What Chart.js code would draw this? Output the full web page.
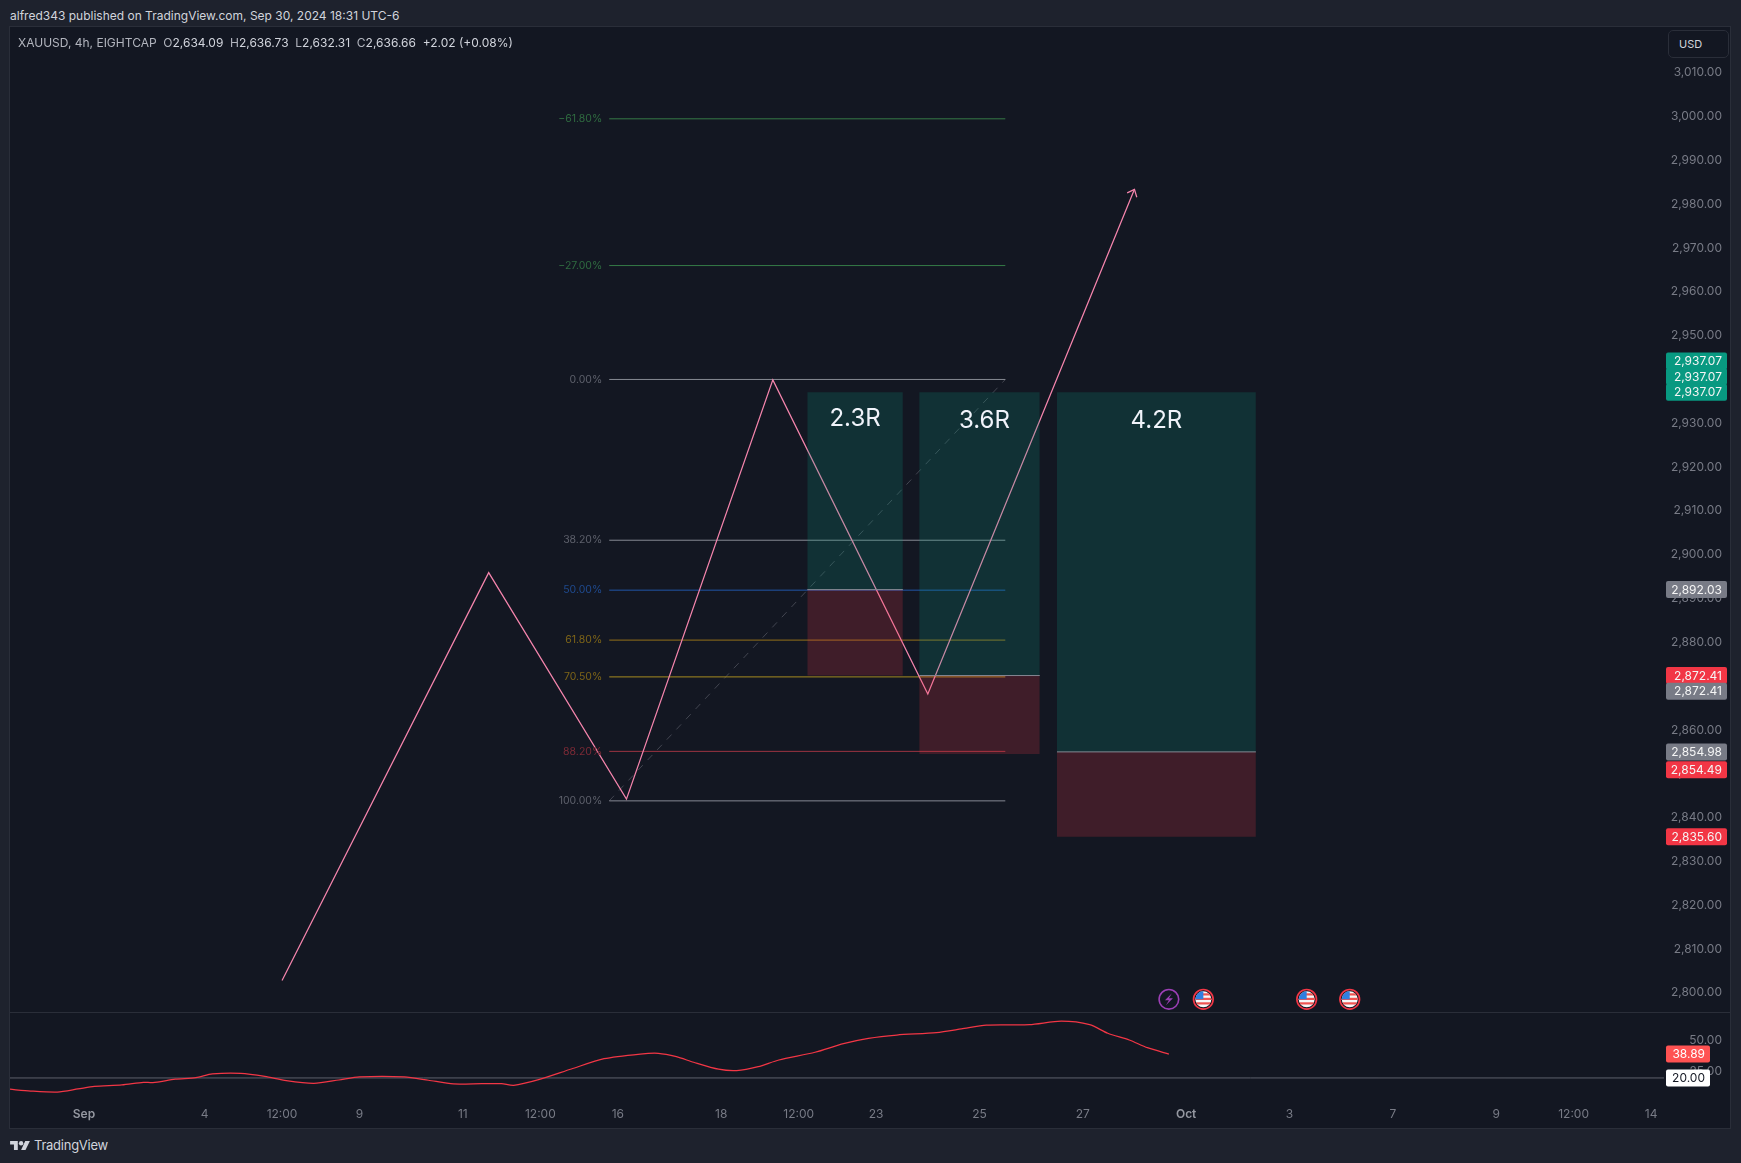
<!DOCTYPE html>
<html><head><meta charset="utf-8">
<script src="https://cdn.jsdelivr.net/npm/chart.js@4"></script>
<style>
html,body{margin:0;padding:0;background:#1e222d;width:1741px;height:1163px;overflow:hidden;font-family:Inter,"Noto Sans",sans-serif}
#hdr{position:absolute;left:10px;top:7px;color:#d1d4dc;font-size:12px;line-height:18px;white-space:nowrap}
#frame{position:absolute;left:10px;top:27px;width:1720px;height:1101px;background:#131722;box-shadow:0 0 0 1px #2a2e39}
#legend{position:absolute;left:18px;top:34px;color:#b2b5be;font-size:12px;line-height:18px;white-space:nowrap}
#legend b{font-weight:400;color:#d1d4dc}
#legend span{margin-left:6.7px}
#usd{position:absolute;left:1668px;top:30px;width:59px;height:26px;border:1px solid #2a2e39;border-radius:5px;color:#d1d4dc;font-size:11px;line-height:26px;text-indent:10px;box-sizing:content-box;background:#131722;z-index:3}
canvas{position:absolute}
#c1{left:10px;top:27px}
#c2{left:10px;top:1012px}
#sep{position:absolute;left:10px;top:1012px;width:1720px;height:1px;background:#2a2e39;z-index:2}
#wm{position:absolute;left:10px;top:1135px;color:#d1d4dc;font-size:13px;letter-spacing:-.25px;line-height:20px;white-space:nowrap}
#wm svg{position:absolute;left:0;top:5px}
#wm span{position:absolute;left:24px;top:0}
</style></head><body>
<div id="hdr">alfred343 published on TradingView.com, Sep 30, 2024 18:31 UTC-6</div>
<div id="frame"></div>
<canvas id="c1" width="1720" height="985"></canvas>
<canvas id="c2" width="1720" height="116"></canvas>
<div id="sep"></div>
<div id="legend">XAUUSD, 4h, EIGHTCAP<span>O<b>2,634.09</b></span><span>H<b>2,636.73</b></span><span>L<b>2,632.31</b></span><span>C<b>2,636.66</b></span><span><b>+2.02 (+0.08%)</b></span></div>
<div id="usd">USD</div>
<div id="wm"><svg width="20" height="11" viewBox="0 0 36 20"><path fill="#d1d4dc" d="M14 18H7V8H0V2h14v16zM28 18h-8l7.5-16H36l-8 16z"/><circle fill="#d1d4dc" cx="20" cy="6" r="4"/></svg><span>TradingView</span></div>
<script>
// time axis, in 4h bars from the "Sep" tick
const timeTickBars   = [0,14,23,32,44,53,62,74,83,92,104,116,128,140,152,164,173,182];
const timeTickLabels = ['Sep','4','12:00','9','11','12:00','16','18','12:00','23','25','27','Oct','3','7','9','12:00','14'];
const boldTicks      = ['Sep','Oct'];

// hand-drawn path
const pathBars   = [23,47,63,80,98,122];
const pathPrices = [2802.8,2895.9,2844.2,2939.9,2868.2,2983.4];
const arrowBars   = [121.15,122,122.27];
const arrowPrices = [2982.6,2983.4,2981.6];

// fib retracement
const fibLabels = ['-61.80%','-27.00%','0.00%','38.20%','50.00%','61.80%','70.50%','88.20%','100.00%'];
const fibPrices = [2999.5,2966.0,2940.0,2903.3,2891.9,2880.5,2872.1,2855.1,2843.8];
const fibLine   = ['#357a47','#357a47','#868993','#868993','#2155a8','#94711a','#a68a20','#9c3342','#868993'];
const fibText   = ['#2f6b40','#2f6b40','#5d606b','#5d606b','#1f4a8f','#7d6418','#7d6418','#7c2a36','#5d606b'];
const fibStartBar = 61, fibEndBar = 107;

// long positions
const posLeft   = [84,97,113];
const posRight  = [95.1,111,136.1];
const posTarget = [2937.07,2937.07,2937.07];
const posEntry  = [2892.03,2872.41,2854.98];
const posStop   = [2872.41,2854.49,2835.60];
const posLabels = ['2.3R','3.6R','4.2R'];
const posLabelPrice = [2931.05,2930.5,2930.5];

// price axis badges
const badgeValues = [2937.07,2937.07,2937.07,2892.03,2872.41,2872.41,2854.98,2854.49,2835.60];
const badgeColors = ['#089981','#089981','#089981','#787b86','#f23645','#787b86','#787b86','#f23645','#f23645'];
const badgeStack  = [-2,-1,0,0,0,1,0,1,0];

// event markers
const eventBars  = [126,130,142,147];
const eventTypes = ['bolt','us','us','us'];

// indicator line
const adxBars = [-8.6,-6.2,-3.1,-0.7,1.2,4.4,6.9,8,10.6,13,14.9,18.2,21,23.5,26.7,29.6,32,37.2,40,42.9,46.2,48.5,49.9,52.8,56.6,60.4,64.6,66.7,68.8,70.8,73.7,75.8,78.3,80.7,84.9,88.2,91.1,94.4,99,101.9,104.8,109.8,113.5,116.8,118.9,121.4,123.5,126];
const adxVals = [11.1,9.7,8.9,11.3,13.4,14.5,16.6,16.3,19.0,20.2,23.2,23.7,21.3,17.9,15.8,18.4,20.8,20.8,18.2,15.3,15.5,15.5,14.2,18.7,27.1,35.2,38.9,39.5,36.8,32.4,26.9,25.8,28.9,34.2,40.3,47.1,51.3,53.9,55.8,58.7,61.8,62.1,64.8,62.1,55.3,50,43.9,38.89];

const XMIN=-8.595, XMAX=183.5, AXIS_W=58, CANVAS_LEFT=10;
const FONT='Inter, "Noto Sans", sans-serif';
const zip=(xs,ys)=>xs.map((x,i)=>({x,y:ys[i]}));
const seg=(a,b,y)=>[{x:a,y},{x:b,y}];
const line=(data,color,extra={})=>Object.assign({type:'line',data,borderColor:color,borderWidth:1,pointRadius:0,tension:0,fill:false},extra);
const noPad=a=>{a.width=AXIS_W;a.paddingTop=0;a.paddingBottom=0;a.paddingLeft=0;a.paddingRight=0;};

const ds=[];
// top-most first: position boxes sit over the drawings
posLeft.forEach((l,i)=>{
  ds.push(line(seg(l,posRight[i],posEntry[i]),'#868993'));
  ds.push(line(seg(l,posRight[i],posTarget[i]),'rgba(0,0,0,0)',{borderWidth:0,fill:{value:posEntry[i]},backgroundColor:'rgba(8,153,129,0.2)'}));
  ds.push(line(seg(l,posRight[i],posEntry[i]),'rgba(0,0,0,0)',{borderWidth:0,fill:{value:posStop[i]},backgroundColor:'rgba(242,54,69,0.2)'}));
});
ds.push(line(zip(pathBars,pathPrices),'#f585ad',{borderWidth:1.25}));
ds.push(line(zip(arrowBars,arrowPrices),'#f585ad',{borderWidth:1.25}));
fibPrices.forEach((v,i)=>ds.push(line(seg(fibStartBar,fibEndBar,v),fibLine[i])));
ds.push(line([{x:fibStartBar,y:fibPrices[8]},{x:fibEndBar,y:fibPrices[2]}],'#434651',{borderDash:[7,7]}));

const overlay={id:'overlay',afterDraw(c){
  const g=c.ctx,xs=c.scales.x,ys=c.scales.y;
  g.save();
  g.font='10.5px '+FONT;g.textAlign='right';g.textBaseline='middle';
  fibLabels.forEach((t,i)=>{g.fillStyle=fibText[i];g.fillText(t.replace('-','\u2212'),xs.getPixelForValue(fibStartBar)-7,ys.getPixelForValue(fibPrices[i]));});
  g.font='24px '+FONT;g.textAlign='center';g.fillStyle='#f0f3fa';
  posLabels.forEach((t,i)=>{
    g.fillText(t,(xs.getPixelForValue(posLeft[i])+xs.getPixelForValue(posRight[i]))/2+(i==1?5:0),ys.getPixelForValue(posLabelPrice[i]));
  });
  const ey=ys.getPixelForValue(2798.5);
  eventBars.forEach((b,i)=>{
    const ex=xs.getPixelForValue(b);
    if(eventTypes[i]==='bolt'){
      g.strokeStyle='#9c3fb5';g.lineWidth=1.6;g.beginPath();g.arc(ex,ey,9.8,0,Math.PI*2);g.stroke();
      g.fillStyle='#9c3fb5';g.beginPath();g.moveTo(ex+3,ey-6);g.lineTo(ex-4,ey+1);g.lineTo(ex,ey+1);g.lineTo(ex-3,ey+6);g.lineTo(ex+4,ey-1);g.lineTo(ex,ey-1);g.closePath();g.fill();
    }else{
      g.save();g.beginPath();g.arc(ex,ey,8,0,Math.PI*2);g.clip();
      g.fillStyle='#f7f7f7';g.fillRect(ex-9,ey-9,18,18);
      g.fillStyle='#ef5350';for(let k=0;k<3;k++)g.fillRect(ex-9,ey-6+k*4.5,18,2.2);
      g.fillStyle='#2f7fe0';g.fillRect(ex-9,ey-9,9,9);
      g.restore();
      g.strokeStyle='#f23645';g.lineWidth=1.7;g.beginPath();g.arc(ex,ey,9.8,0,Math.PI*2);g.stroke();
    }
  });
  g.font='12px '+FONT;
  badgeValues.forEach((v,i)=>{
    const yy=ys.getPixelForValue(v)+badgeStack[i]*15.7;
    g.fillStyle=badgeColors[i];g.beginPath();g.roundRect(1666-CANVAS_LEFT,yy-8.5,61,17,2);g.fill();
    g.fillStyle='#f5f5f5';g.textAlign='right';
    g.fillText(v.toLocaleString('en-US',{minimumFractionDigits:2}),1722-CANVAS_LEFT,yy+0.5);
  });
  g.restore();
}};

new Chart(document.getElementById('c1'),{
  type:'line',
  data:{datasets:ds},
  plugins:[overlay],
  options:{responsive:false,animation:false,events:[],
    layout:{padding:{right:8}},
    plugins:{legend:{display:false},tooltip:{enabled:false}},
    scales:{
      x:{type:'linear',min:XMIN,max:XMAX,display:false},
      y:{type:'linear',position:'right',min:2795.6,max:3020.46,
        grid:{display:false,drawTicks:false},border:{display:false},
        afterFit:noPad,
        afterBuildTicks(a){a.ticks=[];for(let v=2800;v<=3010;v+=10)a.ticks.push({value:v});},
        ticks:{color:'#787b86',font:{family:FONT,size:12},padding:3,crossAlign:'far',
          callback:v=>v.toLocaleString('en-US',{minimumFractionDigits:2})}
      }}}
});

const indOverlay={id:'ind',afterDraw(c){
  const g=c.ctx,ys=c.scales.y;g.save();g.font='12px '+FONT;g.textBaseline='middle';g.textAlign='right';
  [[38.89,'#ff5252','#fff'],[20,'#ffffff','#131722']].forEach(([v,bg,fg])=>{
    const yy=ys.getPixelForValue(v);
    g.fillStyle=bg;g.beginPath();g.roundRect(1666-CANVAS_LEFT,yy-8.5,44,17,2);g.fill();
    g.fillStyle=fg;g.fillText(v.toFixed(2),1705-CANVAS_LEFT,yy+0.5);
  });
  g.restore();
}};
const isBold=c=>!!(c&&c.tick)&&boldTicks.includes(timeTickLabels[timeTickBars.indexOf(c.tick.value)]);
new Chart(document.getElementById('c2'),{
  type:'line',
  data:{datasets:[
    line(zip(adxBars,adxVals),'#f23645',{tension:0.25,borderWidth:1.25}),
    line(seg(XMIN,XMAX,20),'#5d606b')
  ]},
  plugins:[indOverlay],
  options:{responsive:false,animation:false,events:[],
    layout:{padding:{right:8}},
    plugins:{legend:{display:false},tooltip:{enabled:false}},
    scales:{
      x:{type:'linear',min:XMIN,max:XMAX,grid:{display:false,drawTicks:false},border:{display:false},
        afterFit(a){a.height=28;a.paddingLeft=0;a.paddingRight=0;},
        afterBuildTicks(a){a.ticks=timeTickBars.map(v=>({value:v}));},
        ticks:{autoSkip:false,maxRotation:0,padding:7,
          color:c=>isBold(c)?'#9598a1':'#787b86',
          font:c=>({family:FONT,size:12,weight:isBold(c)?'600':'400'}),
          callback:(v)=>timeTickLabels[timeTickBars.indexOf(v)]}},
      y:{type:'linear',position:'right',min:2.6,max:72.1,grid:{display:false,drawTicks:false},border:{display:false},
        afterFit:noPad,
        afterBuildTicks(a){a.ticks=[{value:25},{value:50}];},
        ticks:{color:'#787b86',font:{family:FONT,size:12},padding:3,crossAlign:'far',callback:v=>v.toFixed(2)}}
    }}
});
</script>
</body></html>
